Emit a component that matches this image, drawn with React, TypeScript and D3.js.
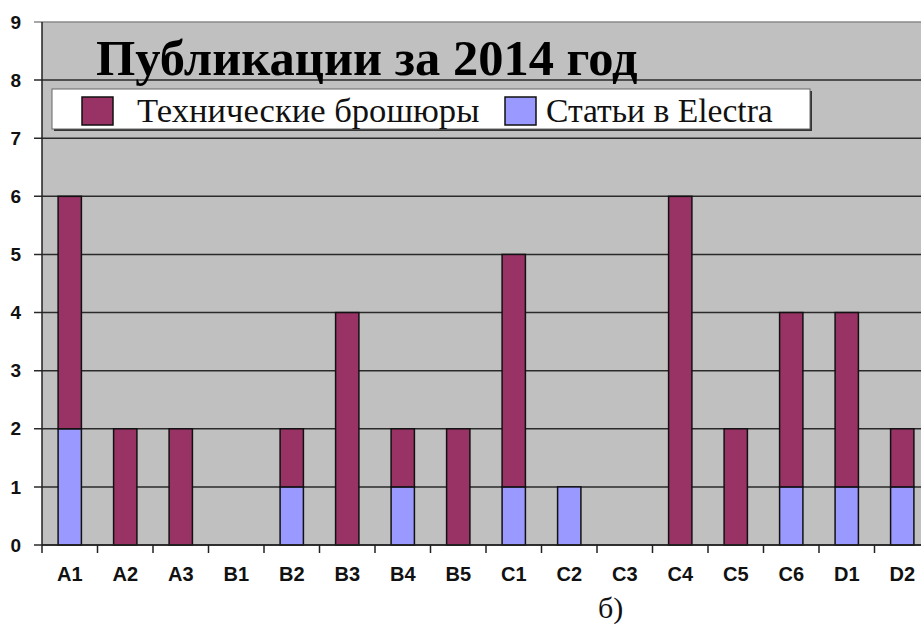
import React from "react";
import * as d3 from "d3";

// categories and the two series (stacked, Electra at the bottom)
const categories = ["A1", "A2", "A3", "B1", "B2", "B3", "B4", "B5", "C1", "C2", "C3", "C4", "C5", "C6", "D1", "D2"];
const brochures = [4, 2, 2, 0, 1, 4, 1, 2, 4, 0, 0, 6, 2, 3, 3, 1];
const electra = [2, 0, 0, 0, 1, 0, 1, 0, 1, 1, 0, 0, 0, 1, 1, 1];
const yTicks = [0, 1, 2, 3, 4, 5, 6, 7, 8, 9];

const seriesNames = { brochures: "Технические брошюры", electra: "Статьи в Electra" };
const colors = { brochures: "#993366", electra: "#9999FF" };

const W = 921;
const H = 628;
const margin = { top: 22, left: 42, bottom: 83 };
const plotRight = 930; // chart is cut off on the right in the original

const App = () => {
  const rows = categories.map((c, i) => ({ cat: c, electra: electra[i], brochures: brochures[i] }));
  const stacked = d3.stack<any>().keys(["electra", "brochures"])(rows);

  const x = d3.scaleBand().domain(categories).range([margin.left, plotRight]);
  const y = d3.scaleLinear().domain([0, 9]).range([H - margin.bottom, margin.top]);
  const barW = x.bandwidth() * 0.42;

  const boundaries = categories.map((c) => x(c)!).concat([plotRight]);

  return (
    <svg width={W} height={H} style={{ position: "absolute", left: 0, top: 0, background: "#fff" }}>
      {/* plot background */}
      <rect x={margin.left} y={y(9)} width={plotRight - margin.left} height={y(0) - y(9)} fill="#C0C0C0" />

      {/* grid lines */}
      {yTicks.map((t) => (
        <line key={t} x1={margin.left - 8} x2={plotRight} y1={y(t)} y2={y(t)}
          stroke={t === 9 ? "#8a8a8a" : "#2a2a2a"} strokeWidth={1.5} />
      ))}
      {yTicks.map((t) => (
        <text key={"l" + t} x={21} y={y(t)} dy="0.35em" textAnchor="end"
          fontFamily="Arial, 'Liberation Sans', sans-serif" fontWeight="bold" fontSize={19} fill="#111">{t}</text>
      ))}

      {/* bars */}
      {stacked.map((s) => (
        <g key={s.key}>
          {s.map((d, i) => d[1] - d[0] > 0 ? (
            <rect key={i} x={x(categories[i])! + (x.bandwidth() - barW) / 2} y={y(d[1])}
              width={barW} height={y(d[0]) - y(d[1])}
              fill={(colors as any)[s.key]} stroke="#111" strokeWidth={1.5} />
          ) : null)}
        </g>
      ))}

      {/* axes */}
      <line x1={margin.left} x2={margin.left} y1={y(9)} y2={y(0)} stroke="#222" strokeWidth={1.5} />
      <line x1={margin.left} x2={plotRight} y1={y(0)} y2={y(0)} stroke="#222" strokeWidth={1.5} />
      {boundaries.map((b, i) => (
        <line key={"t" + i} x1={b} x2={b} y1={y(0)} y2={y(0) + 8} stroke="#222" strokeWidth={1.5} />
      ))}
      {categories.map((c) => (
        <text key={c} x={x(c)! + x.bandwidth() / 2} y={574} dy="0.35em" textAnchor="middle"
          fontFamily="Arial, 'Liberation Sans', sans-serif" fontWeight="bold" fontSize={20} fill="#111">{c}</text>
      ))}

      {/* title */}
      <text x={96} y={75} fontFamily="'Times New Roman', 'Liberation Serif', serif" fontWeight="bold"
        fontSize={50.5} fill="#000">Публикации за 2014 год</text>

      {/* legend */}
      <rect x={54} y={91} width={758} height={40} fill="#333" />
      <rect x={52} y={89} width={758} height={40} fill="#fff" stroke="#666" strokeWidth={1} />
      <rect x={82} y={97} width={31} height={28} fill={colors.brochures} stroke="#111" strokeWidth={1.5} />
      <text x={137} y={122} fontFamily="'Times New Roman', 'Liberation Serif', serif" fontSize={34.6} fill="#111">{seriesNames.brochures}</text>
      <rect x={505} y={97} width={31} height={28} fill={colors.electra} stroke="#111" strokeWidth={1.5} />
      <text x={546} y={122} fontFamily="'Times New Roman', 'Liberation Serif', serif" fontSize={33.6} fill="#111">{seriesNames.electra}</text>

      {/* caption */}
      <text x={598} y={618} fontFamily="'Times New Roman', 'Liberation Serif', serif" fontSize={30} fill="#111">б)</text>
    </svg>
  );
};

export default App;
